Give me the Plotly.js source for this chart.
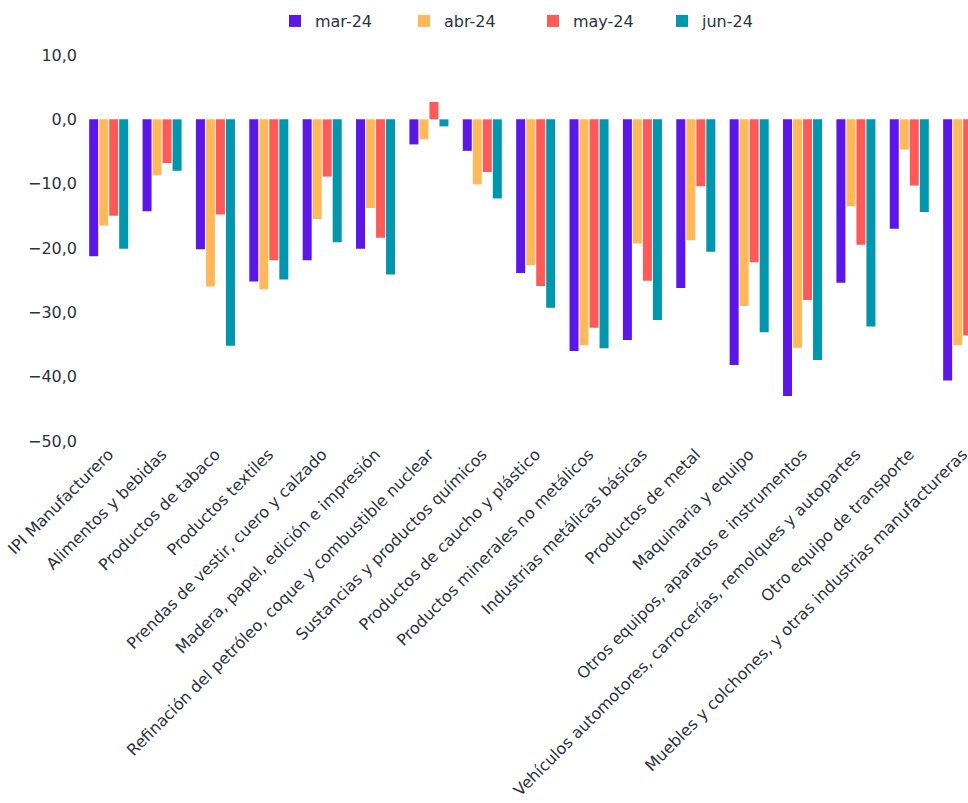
<!DOCTYPE html>
<html>
<head>
<meta charset="utf-8">
<script src="https://cdn.plot.ly/plotly-3.0.1.min.js"></script>
<style>html,body{margin:0;padding:0;background:#fff;overflow:hidden;}#chart{width:968px;height:803px;}</style>
</head>
<body>
<div id="chart"></div>
<script>
const categories = [
  "IPI Manufacturero",
  "Alimentos y bebidas",
  "Productos de tabaco",
  "Productos textiles",
  "Prendas de vestir, cuero y calzado",
  "Madera, papel, edición e impresión",
  "Refinación del petróleo, coque y combustible nuclear",
  "Sustancias y productos químicos",
  "Productos de caucho y plástico",
  "Productos minerales no metálicos",
  "Industrias metálicas básicas",
  "Productos de metal",
  "Maquinaria y equipo",
  "Otros equipos, aparatos e instrumentos",
  "Vehículos automotores, carrocerías, remolques y autopartes",
  "Otro equipo de transporte",
  "Muebles y colchones, y otras industrias manufactureras"
];
const seriesNames = ["mar-24", "abr-24", "may-24", "jun-24"];
const mar24 = [-21.3, -14.3, -20.2, -25.2, -21.9, -20.1, -3.9, -4.9, -23.9, -36.0, -34.3, -26.2, -38.2, -43.0, -25.4, -17.0, -40.6];
const abr24 = [-16.5, -8.7, -26.0, -26.4, -15.5, -13.8, -3.1, -10.1, -22.7, -35.1, -19.3, -18.8, -29.0, -35.5, -13.5, -4.7, -35.1];
const may24 = [-15.0, -6.8, -14.8, -21.9, -8.9, -18.4, 2.7, -8.2, -25.9, -32.4, -25.1, -10.4, -22.2, -28.1, -19.5, -10.3, -33.6];
const jun24 = [-20.1, -8.0, -35.2, -24.9, -19.1, -24.1, -1.1, -12.3, -29.3, -35.6, -31.2, -20.6, -33.1, -37.4, -32.2, -14.4, -34.0];
const colors = ["#5c16e8", "#ffb95a", "#ff5a5a", "#0096ad"];

const values = [mar24, abr24, may24, jun24];
const data = values.map((v, i) => ({
  type: "bar",
  name: seriesNames[i],
  x: categories,
  y: v,
  marker: {color: colors[i], line: {width: 0}},
  hoverinfo: "x+y+name"
}));

const font = "'DejaVu Sans', 'Open Sans', sans-serif";
const layout = {
  width: 968,
  height: 803,
  margin: {l: 82, r: 0, t: 55, b: 362, pad: 0, autoexpand: false},
  paper_bgcolor: "#ffffff",
  plot_bgcolor: "#ffffff",
  barmode: "group",
  bargap: 0.25,
  bargroupgap: 0.1,
  separators: ",.",
  font: {family: font, color: "#2b3340", size: 16},
  showlegend: true,
  legend: {
    orientation: "h",
    x: 0.509, xanchor: "center",
    y: 1.088, yanchor: "middle",
    font: {size: 16, color: "#2b3340"},
    entrywidth: 84,
    traceorder: "normal"
  },
  xaxis: {
    type: "category",
    range: [-0.5, 16.1],
    tickangle: -45,
    showgrid: false,
    zeroline: false,
    showline: false,
    ticks: "",
    tickfont: {size: 16, color: "#2b3340"},
    automargin: false
  },
  yaxis: {
    range: [-50, 10],
    tickvals: [-50, -40, -30, -20, -10, 0, 10],
    tickformat: ".1f",
    showgrid: false,
    zeroline: false,
    showline: false,
    ticks: "",
    ticklabelstandoff: 4,
    tickfont: {size: 16, color: "#2b3340"},
    automargin: false
  }
};
Plotly.newPlot("chart", data, layout, {displayModeBar: false, staticPlot: true});
</script>
</body>
</html>
